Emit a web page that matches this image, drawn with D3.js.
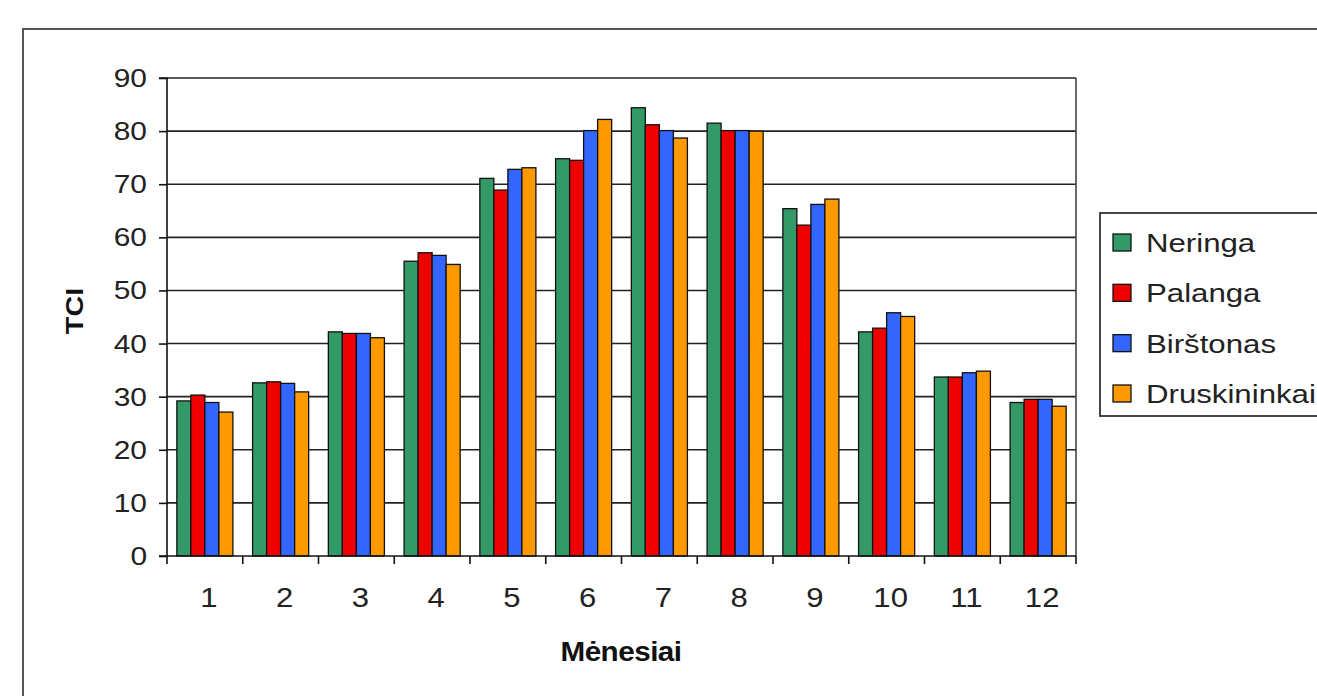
<!DOCTYPE html>
<html><head><meta charset="utf-8">
<script src="https://cdn.jsdelivr.net/npm/d3@7"></script>
<style>body{margin:0;background:#fff;}svg{display:block;font-family:"Liberation Sans",Arial,sans-serif;}</style>
</head><body>
<script>
const months = ["1","2","3","4","5","6","7","8","9","10","11","12"];
const seriesNames = ["Neringa","Palanga","Birštonas","Druskininkai"];
const seriesColors = ["#339966","#ee0000","#3366ff","#ff9900"];
const neringa = [29.2,32.6,42.2,55.5,71.1,74.8,84.4,81.5,65.4,42.2,33.7,28.9];
const palanga = [30.3,32.8,41.9,57.1,68.9,74.5,81.2,80.1,62.3,42.9,33.7,29.5];
const birstonas = [28.9,32.5,41.9,56.6,72.8,80.1,80.1,80.1,66.2,45.8,34.5,29.5];
const druskininkai = [27.1,30.9,41.1,54.9,73.1,82.2,78.7,80.0,67.2,45.1,34.8,28.2];
const yTicks = [0,10,20,30,40,50,60,70,80,90];
const allSeries = [neringa,palanga,birstonas,druskininkai];

const W=1317,H=696, SX=1.15;
const svg=d3.select("body").append("svg").attr("width",W).attr("height",H);
// outer frame
svg.append("rect").attr("x",23).attr("y",29).attr("width",1400).attr("height",800)
  .attr("fill","none").attr("stroke","#555").attr("stroke-width",2);

const L=167,R=1076,T=78,B=556;
const x0=d3.scaleBand().domain(months).range([L,R]).padding(0);
const bw=x0.bandwidth();
const x1=d3.scaleBand().domain(d3.range(4)).range([bw*0.13,bw*0.87]).padding(0);
const y=d3.scaleLinear().domain([0,90]).range([B,T]);

// gridlines
svg.append("g").selectAll("line").data(yTicks.filter(d=>d>0)).join("line")
  .attr("x1",L).attr("x2",R).attr("y1",d=>y(d)).attr("y2",d=>y(d))
  .attr("stroke","#222").attr("stroke-width",1.6);
// right border
svg.append("line").attr("x1",R).attr("x2",R).attr("y1",T).attr("y2",B).attr("stroke","#444").attr("stroke-width",1.6);

// bars
const g=svg.append("g");
allSeries.forEach((vals,si)=>{
  g.append("g").selectAll("rect").data(vals).join("rect")
    .attr("x",(d,i)=>x0(months[i])+x1(si))
    .attr("y",d=>y(d))
    .attr("width",x1.bandwidth())
    .attr("height",d=>B-y(d))
    .attr("fill",seriesColors[si])
    .attr("stroke","#111").attr("stroke-width",1.3);
});

// y axis
const yAxis=d3.axisLeft(y).tickValues(yTicks).tickSize(8).tickFormat(()=>"");
const ya=svg.append("g").attr("transform",`translate(${L},0)`).call(yAxis);
ya.select(".domain").attr("stroke","#111").attr("stroke-width",1.6).attr("d",`M-8,${T}H0V${B}`);
ya.selectAll(".tick line").attr("stroke","#111").attr("stroke-width",1.6);
svg.append("g").selectAll("text").data(yTicks).join("text")
  .attr("transform",d=>`translate(147,${y(d)+9}) scale(${SX},1)`)
  .attr("text-anchor","end").attr("font-size",26).attr("fill","#222").text(d=>d);

// x axis
const xa=svg.append("g").attr("transform",`translate(0,${B})`);
xa.append("line").attr("x1",L-8).attr("x2",R).attr("y1",0).attr("y2",0).attr("stroke","#111").attr("stroke-width",1.6);
xa.selectAll("line.tk").data(d3.range(13)).join("line").attr("class","tk")
  .attr("x1",i=>L+i*bw).attr("x2",i=>L+i*bw).attr("y1",0).attr("y2",8)
  .attr("stroke","#111").attr("stroke-width",1.6);
xa.selectAll("text").data(months).join("text")
  .attr("transform",d=>`translate(${x0(d)+bw/2+4},51) scale(${SX},1)`)
  .attr("text-anchor","middle").attr("font-size",27).attr("fill","#222")
  .text(d=>d);

// axis titles
svg.append("text").attr("transform","translate(83,311) rotate(-90) scale(1.2,1)")
  .attr("text-anchor","middle").attr("font-size",24).attr("font-weight","bold").attr("fill","#111").text("TCI");
svg.append("text").attr("transform","translate(621,661) scale(1.06,1)")
  .attr("text-anchor","middle").attr("font-size",28).attr("font-weight","bold").attr("fill","#111").attr("letter-spacing",-0.5).text("Mėnesiai");

// legend
const lg=svg.append("g");
lg.append("rect").attr("x",1100).attr("y",213).attr("width",300).attr("height",203)
  .attr("fill","#fff").attr("stroke","#333").attr("stroke-width",1.8);
const ly=d3.scalePoint().domain(seriesNames).range([242,393]);
lg.selectAll("rect.sw").data(seriesNames).join("rect").attr("class","sw")
  .attr("x",1113).attr("y",d=>ly(d)-8).attr("width",18).attr("height",17)
  .attr("fill",(d,i)=>seriesColors[i]).attr("stroke","#111").attr("stroke-width",1.3);
lg.selectAll("text").data(seriesNames).join("text")
  .attr("transform",d=>`translate(1146,${ly(d)+10}) scale(1.2,1)`)
  .attr("font-size",26).attr("fill","#222")
  .text(d=>d);
</script>
</body></html>
